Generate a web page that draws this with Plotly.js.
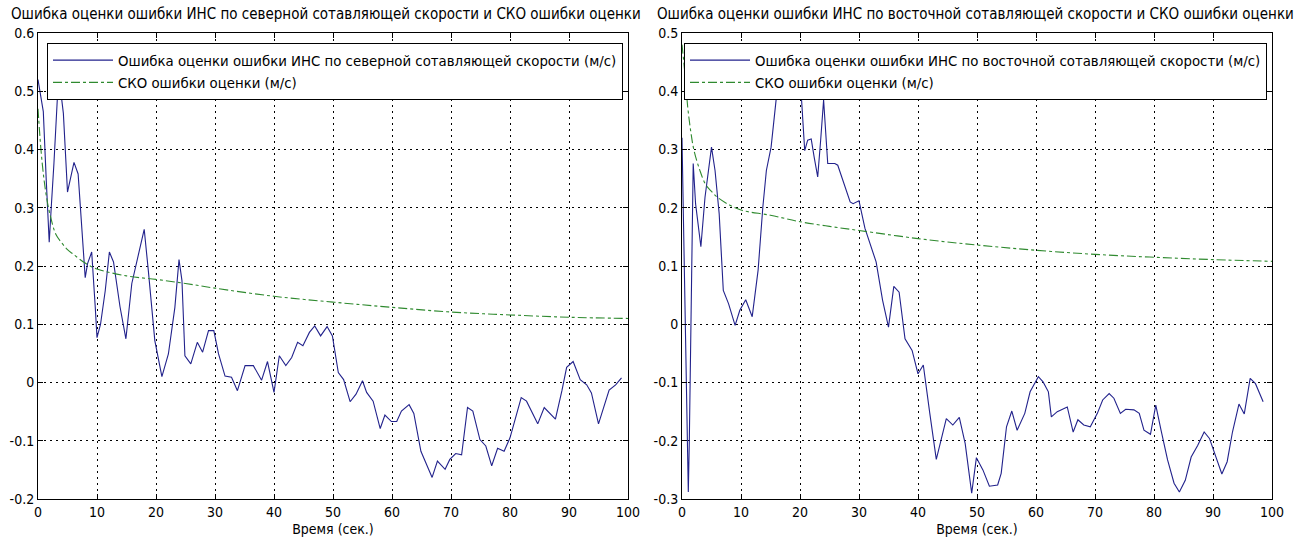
<!DOCTYPE html>
<html>
<head>
<meta charset="utf-8">
<script src="https://cdn.plot.ly/plotly-3.0.1.min.js"></script>
<style>
  html, body { margin: 0; padding: 0; background: #fff; }
  #chart { width: 1301px; height: 542px; }
</style>
</head>
<body>
<div id="chart"></div>
<script>
// Error of the INS north velocity estimate (m/s)
const northTime = [0, 0.9, 1.4, 1.9, 2.3, 2.7, 3.5, 4.3, 5.0, 5.5, 6.1, 6.8, 7.6, 8.0, 8.4, 9.1, 9.7, 10.0, 10.6, 11.4,
  12.1, 12.8, 13.9, 14.9, 15.9, 17.0, 18.0, 18.7, 19.8, 21.0, 22.1, 23.2, 23.9, 24.4, 24.9, 25.9, 27.0, 27.9, 28.9, 29.8,
  30.6, 31.7, 32.8, 33.8, 35.1, 36.5, 37.9, 38.9, 40.0, 40.9, 42.0, 43.0, 44.0, 44.9, 46.0, 46.9, 47.9, 49.0, 49.9, 50.9,
  51.8, 52.9, 53.9, 55.0, 55.7, 56.8, 58.0, 58.8, 59.9, 60.8, 61.6, 62.9, 63.7, 64.9, 65.9, 66.8, 67.7, 69.0, 69.8, 70.8,
  71.8, 72.8, 73.7, 74.9, 75.9, 76.9, 77.9, 79.0, 80.0, 81.0, 81.9, 82.8, 84.7, 85.8, 86.8, 87.7, 88.8, 89.6, 90.7, 91.9,
  93.0, 93.8, 95.0, 95.9, 96.8, 97.9, 98.9];
const northErr = [0.52, 0.465, 0.347, 0.241, 0.31, 0.376, 0.53, 0.462, 0.327, 0.353, 0.378, 0.358, 0.24, 0.18, 0.204, 0.224, 0.13, 0.077, 0.10, 0.158,
  0.224, 0.207, 0.13, 0.075, 0.17, 0.22, 0.263, 0.192, 0.072, 0.01, 0.049, 0.129, 0.211, 0.175, 0.046, 0.032, 0.069, 0.052, 0.089, 0.089,
  0.049, 0.011, 0.009, -0.014, 0.029, 0.029, 0.004, 0.036, -0.017, 0.046, 0.029, 0.043, 0.069, 0.063, 0.086, 0.097, 0.080, 0.096, 0.080, 0.017,
  0.005, -0.033, -0.020, 0.003, -0.017, -0.032, -0.079, -0.056, -0.067, -0.067, -0.049, -0.038, -0.053, -0.118, -0.141, -0.163, -0.135, -0.149, -0.132, -0.122,
  -0.124, -0.043, -0.049, -0.098, -0.109, -0.143, -0.113, -0.118, -0.095, -0.060, -0.026, -0.032, -0.071, -0.043, -0.054, -0.063, -0.014, 0.026, 0.036, 0.005,
  -0.004, -0.018, -0.071, -0.043, -0.013, -0.004, 0.008];

// Standard deviation of the north estimate error (m/s)
const northSkoTime = [0, 0.5, 1, 1.5, 2, 3, 4, 5, 6, 8, 10, 15, 20, 25, 30, 40, 50, 60, 70, 80, 90, 100];
const northSko = [0.47, 0.40, 0.35, 0.315, 0.29, 0.255, 0.24, 0.228, 0.22, 0.205, 0.195, 0.183, 0.177, 0.17, 0.162, 0.148, 0.138, 0.129, 0.121, 0.116, 0.112, 0.11];

// Error of the INS east velocity estimate (m/s)
const eastTime = [0, 0.3, 0.7, 1.07, 1.24, 1.4, 1.6, 1.9, 2.3, 2.75, 3.2, 3.9, 5.0, 5.6, 6.3, 7.0, 7.9, 9.0, 9.8, 10.8,
  11.9, 12.9, 13.7, 14.3, 15.1, 16.0, 17.0, 18.5, 19.5, 20.2, 20.8, 21.3, 21.9, 22.4, 23.0, 23.5, 24.0, 24.7, 25.9, 26.4,
  27.6, 28.5, 29.0, 30.0, 31.0, 32.1, 32.9, 34.0, 35.0, 35.9, 36.8, 37.8, 39.0, 40.0, 40.9, 42.0, 43.1, 44.8, 45.9, 47.0,
  48.0, 49.1, 49.9, 51.0, 52.1, 53.5, 54.1, 55.0, 55.9, 56.8, 58.1, 59.0, 60.4, 61.2, 62.1, 62.6, 63.6, 65.3, 66.3, 67.1,
  68.1, 69.2, 70.4, 71.3, 72.4, 73.2, 74.3, 75.2, 76.6, 77.5, 78.3, 79.4, 80.3, 81.2, 82.3, 83.4, 84.3, 85.3, 86.3, 87.4,
  88.5, 89.4, 90.5, 91.5, 92.4, 93.3, 94.4, 95.3, 96.3, 97.2, 98.5];
const eastErr = [0.32, 0.15, -0.067, -0.288, -0.2, -0.08, 0.104, 0.276, 0.207, 0.173, 0.133, 0.218, 0.304, 0.264, 0.19, 0.058, 0.035, -0.002, 0.024, 0.042,
  0.013, 0.093, 0.201, 0.264, 0.304, 0.39, 0.45, 0.47, 0.44, 0.396, 0.298, 0.316, 0.318, 0.287, 0.253, 0.316, 0.385, 0.276, 0.276, 0.273,
  0.235, 0.21, 0.207, 0.212, 0.165, 0.133, 0.107, 0.041, -0.005, 0.065, 0.055, -0.025, -0.045, -0.085, -0.07, -0.153, -0.232, -0.162, -0.173, -0.16,
  -0.205, -0.29, -0.229, -0.25, -0.278, -0.276, -0.256, -0.176, -0.149, -0.182, -0.153, -0.116, -0.09, -0.099, -0.116, -0.159, -0.15, -0.142, -0.185, -0.164,
  -0.173, -0.176, -0.153, -0.13, -0.119, -0.127, -0.153, -0.146, -0.147, -0.153, -0.182, -0.189, -0.139, -0.182, -0.233, -0.273, -0.288, -0.268, -0.228, -0.208,
  -0.185, -0.196, -0.228, -0.257, -0.236, -0.185, -0.137, -0.154, -0.093, -0.102, -0.133];

// Standard deviation of the east estimate error (m/s)
const eastSkoTime = [0, 0.5, 1, 1.5, 2, 3, 4, 5, 6, 8, 10, 15, 20, 25, 30, 40, 50, 60, 70, 80, 90, 100];
const eastSko = [0.48, 0.43, 0.37, 0.33, 0.30, 0.265, 0.24, 0.228, 0.218, 0.205, 0.196, 0.187, 0.176, 0.168, 0.161, 0.147, 0.136, 0.127, 0.12, 0.115, 0.111, 0.108];

// Axis ticks
const timeTicks = [0, 10, 20, 30, 40, 50, 60, 70, 80, 90, 100];
const timeTickText = ['0', '10', '20', '30', '40', '50', '60', '70', '80', '90', '100'];
const northTicks = [-0.2, -0.1, 0, 0.1, 0.2, 0.3, 0.4, 0.5, 0.6];
const northTickText = ['-0.2', '-0.1', '0', '0.1', '0.2', '0.3', '0.4', '0.5', '0.6'];
const eastTicks = [-0.3, -0.2, -0.1, 0, 0.1, 0.2, 0.3, 0.4, 0.5];
const eastTickText = ['-0.3', '-0.2', '-0.1', '0', '0.1', '0.2', '0.3', '0.4', '0.5'];

// Text
const northTitle = 'Ошибка оценки ошибки ИНС по северной сотавляющей скорости и СКО ошибки оценки';
const eastTitle = 'Ошибка оценки ошибки ИНС по восточной сотавляющей скорости и СКО ошибки оценки';
const northErrName = 'Ошибка оценки ошибки ИНС по северной сотавляющей скорости (м/с)';
const eastErrName = 'Ошибка оценки ошибки ИНС по восточной сотавляющей скорости (м/с)';
const skoName = 'СКО ошибки оценки (м/с)';
const timeLabel = 'Время (сек.)';

const FONT = '"Liberation Sans Narrow", "DejaVu Sans Condensed", "Arial Narrow", sans-serif';
const W = 1301, H = 542;
const px = v => v / W;
const py = v => 1 - v / H;

const errColor = '#22228c';
const skoColor = '#2f8a2f';

const traces = [
  { x: northTime, y: northErr, name: northErrName, type: 'scatter', mode: 'lines',
    line: { color: errColor, width: 1.1 }, xaxis: 'x', yaxis: 'y', legend: 'legend' },
  { x: northSkoTime, y: northSko, name: skoName, type: 'scatter', mode: 'lines',
    line: { color: skoColor, width: 1.1, dash: 'dashdot', shape: 'spline' }, xaxis: 'x', yaxis: 'y', legend: 'legend' },
  { x: eastTime, y: eastErr, name: eastErrName, type: 'scatter', mode: 'lines',
    line: { color: errColor, width: 1.1 }, xaxis: 'x2', yaxis: 'y2', legend: 'legend2' },
  { x: eastSkoTime, y: eastSko, name: skoName, type: 'scatter', mode: 'lines',
    line: { color: skoColor, width: 1.1, dash: 'dashdot', shape: 'spline' }, xaxis: 'x2', yaxis: 'y2', legend: 'legend2' }
];

function xAxis(domain, anchor) {
  return {
    domain: domain, anchor: anchor, range: [0, 100],
    tickmode: 'array', tickvals: timeTicks, ticktext: timeTickText,
    ticks: 'inside', ticklen: 5, tickcolor: '#000',
    showline: true, linecolor: '#000', linewidth: 1, mirror: 'allticks',
    showgrid: true, gridcolor: '#000', gridwidth: 1, griddash: '1.5px,4.5px',
    zeroline: false, tickfont: { family: FONT, size: 14, color: '#000' },
    title: { text: timeLabel, font: { family: FONT, size: 14, color: '#000' }, standoff: 5 }
  };
}
function yAxis(range, vals, text, anchor) {
  return {
    domain: [py(499), py(33)], anchor: anchor, range: range,
    tickmode: 'array', tickvals: vals, ticktext: text,
    ticks: 'inside', ticklen: 5, tickcolor: '#000',
    showline: true, linecolor: '#000', linewidth: 1, mirror: 'allticks',
    showgrid: true, gridcolor: '#000', gridwidth: 1, griddash: '1.5px,4.5px',
    zeroline: false, tickfont: { family: FONT, size: 14, color: '#000' }
  };
}
function legendBox(x) {
  return {
    x: px(x), y: py(43), xanchor: 'left', yanchor: 'top',
    bgcolor: '#fff', bordercolor: '#000', borderwidth: 1,
    font: { family: FONT, size: 14.8, color: '#000' },
    itemwidth: 60, tracegroupgap: 0, traceorder: 'normal'
  };
}

const layout = {
  width: W, height: H,
  margin: { l: 0, r: 0, t: 0, b: 0 },
  paper_bgcolor: '#fff', plot_bgcolor: '#fff',
  showlegend: true,
  xaxis: xAxis([px(38), px(628)], 'y'),
  yaxis: yAxis([-0.2, 0.6], northTicks, northTickText, 'x'),
  xaxis2: xAxis([px(682), px(1272)], 'y2'),
  yaxis2: yAxis([-0.3, 0.5], eastTicks, eastTickText, 'x2'),
  legend: legendBox(47),
  legend2: legendBox(684),
  annotations: [
    { text: northTitle, xref: 'paper', yref: 'paper', x: px(326), y: py(14), xanchor: 'center', yanchor: 'middle',
      showarrow: false, font: { family: FONT, size: 15, color: '#000' } },
    { text: eastTitle, xref: 'paper', yref: 'paper', x: px(975), y: py(14), xanchor: 'center', yanchor: 'middle',
      showarrow: false, font: { family: FONT, size: 15, color: '#000' } }
  ]
};

Plotly.newPlot('chart', traces, layout, { staticPlot: true, displayModeBar: false });
</script>
</body>
</html>
